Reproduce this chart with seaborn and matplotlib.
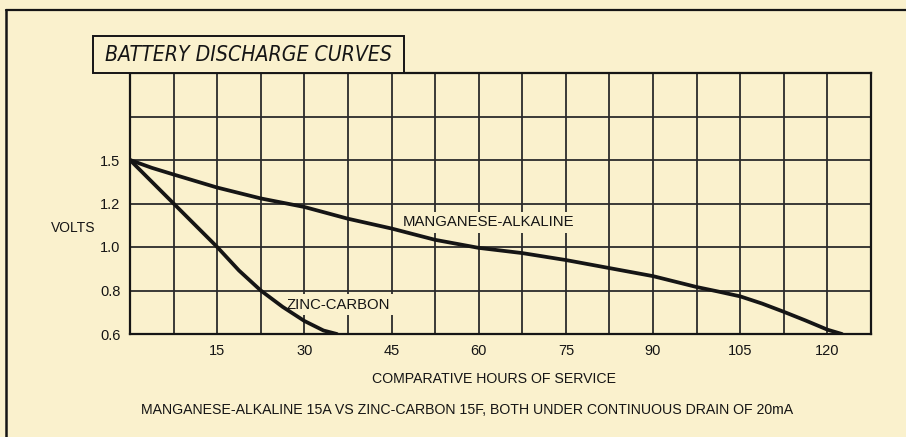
import numpy as np
import pandas as pd
import matplotlib
matplotlib.use("Agg")
import matplotlib.pyplot as plt
from matplotlib import font_manager
from matplotlib.font_manager import FontProperties
from matplotlib.patches import Rectangle
from matplotlib.lines import Line2D
import seaborn as sns

# ---- data -------------------------------------------------------------
mn_hours = [0, 3.75, 7.5, 15, 22.5, 30, 37.5, 45, 52.5, 60, 67.5, 75,
            82.5, 90, 97.5, 101.25, 105, 108.75, 112.5, 116.25, 120, 122.5]
mn_volts = [1.50, 1.446, 1.40, 1.31, 1.235, 1.184, 1.13, 1.085, 1.033, 0.996,
            0.972, 0.94, 0.903, 0.866, 0.816, 0.795, 0.773, 0.74, 0.702,
            0.662, 0.62, 0.60]

zn_hours = [0, 3.75, 7.5, 11.25, 15, 18.75, 22.5, 26.25, 30, 33.3, 35.6]
zn_volts = [1.50, 1.35, 1.20, 1.10, 1.00, 0.892, 0.80, 0.725, 0.66, 0.616, 0.60]

series_names = ["MANGANESE-ALKALINE", "ZINC-CARBON"]

x_ticks = [0, 7.5, 15, 22.5, 30, 37.5, 45, 52.5, 60, 67.5, 75, 82.5, 90,
           97.5, 105, 112.5, 120, 127.5]
x_labels = ["", "", "15", "", "30", "", "45", "", "60", "", "75", "", "90",
            "", "105", "", "120", ""]
y_ticks = [0.6, 0.8, 1.0, 1.2, 1.5, 1.8, 2.1]
y_labels = ["0.6", "0.8", "1.0", "1.2", "1.5", "", ""]

title = "BATTERY DISCHARGE CURVES"
x_title = "COMPARATIVE HOURS OF SERVICE"
y_title = "VOLTS"
footnote = ("MANGANESE-ALKALINE 15A VS ZINC-CARBON 15F, BOTH UNDER "
            "CONTINUOUS DRAIN OF 20mA")

# ---- style ------------------------------------------------------------
paper = "#faf1cd"
ink = "#151515"
grid_ink = "#2b2b2b"

sns.set_style("white")
installed = {f.name for f in font_manager.fontManager.ttflist}
regular = "Liberation Sans" if "Liberation Sans" in installed else "DejaVu Sans"
plt.rcParams["font.family"] = [regular, "DejaVu Sans"]
plt.rcParams["text.color"] = ink


def title_font():
    """A narrow slanted face for the title, if one is installed."""
    files = [f for f in font_manager.fontManager.ttflist
             if ("Narrow" in f.fname or "Condensed" in f.fname)
             and f.weight in (400, "normal", "regular")]
    slanted = [f for f in files if f.style in ("italic", "oblique")]
    for group in (slanted, files):
        for pref in ("Liberation", "DejaVu", "Roboto", "Open", "Noto"):
            for f in group:
                if pref in f.fname:
                    return FontProperties(fname=f.fname,
                                          style="normal" if f in slanted else "italic")
    return FontProperties(family=regular, style="italic")


df = pd.DataFrame({
    "hours": mn_hours + zn_hours,
    "volts": mn_volts + zn_volts,
    "cell": [series_names[0]] * len(mn_hours) + [series_names[1]] * len(zn_hours),
})

fig = plt.figure(figsize=(9.06, 4.37), dpi=100, facecolor=paper)
ax = fig.add_axes([130 / 906, 1 - 334 / 437, 741 / 906, 261 / 437])
ax.set_facecolor(paper)


# Voltage axis: equal spacing for 0.6-0.8-1.0-1.2, then 0.3 V per row above
def v_to_row(v):
    v = np.asarray(v, dtype=float)
    return np.where(v <= 1.2, (v - 0.6) / 0.2, 3 + (v - 1.2) / 0.3)


def row_to_v(r):
    r = np.asarray(r, dtype=float)
    return np.where(r <= 3, 0.6 + 0.2 * r, 1.2 + 0.3 * (r - 3))


ax.set_yscale("function", functions=(v_to_row, row_to_v))

sns.lineplot(data=df, x="hours", y="volts", hue="cell", sort=False,
             palette=[ink, ink], linewidth=2.7, legend=False, ax=ax,
             zorder=5, solid_capstyle="round", solid_joinstyle="round")

ax.set_xlim(0, 127.5)
ax.set_ylim(0.6, 2.1)
ax.set_xticks(x_ticks)
ax.set_xticklabels(x_labels)
ax.set_yticks(y_ticks)
ax.set_yticklabels(y_labels)
ax.minorticks_off()
ax.tick_params(length=0, labelsize=10.5, colors=ink, pad=7)
ax.set_xlabel("")
ax.set_ylabel("")
ax.grid(True, color=grid_ink, linewidth=1.3)
ax.set_axisbelow(True)
for s in ax.spines.values():
    s.set_color(ink)
    s.set_linewidth(1.6)

# series labels on cream patches that hide the grid behind them
box = dict(facecolor=paper, edgecolor="none", pad=2.5)
ax.text(47, 1.114, series_names[0], ha="left", va="center", fontsize=10.7,
        bbox=box, zorder=3)
ax.text(27, 0.735, series_names[1], ha="left", va="center", fontsize=10.7,
        bbox=box, zorder=3)

# axis titles and footnote
fig.text(73 / 906, 1 - 228 / 437, y_title, ha="center", va="center", fontsize=10)
fig.text(494 / 906, 1 - 379 / 437, x_title, ha="center", va="center", fontsize=10.2)
fig.text(467 / 906, 1 - 410 / 437, footnote, ha="center", va="center", fontsize=10.2)

# boxed chart title above the grid
fig.patches.append(Rectangle((93 / 906, 1 - 73 / 437), 311 / 906, 37 / 437,
                             transform=fig.transFigure, facecolor=paper,
                             edgecolor=ink, linewidth=1.4, zorder=2))
tprops = title_font()
tprops.set_size(16.5)
ttl = fig.text(248.5 / 906, 1 - 55 / 437, title, ha="center", va="center",
               fontproperties=tprops, zorder=3)
# fit the title to a 287 px run inside its box
renderer = fig.canvas.get_renderer()
w = ttl.get_window_extent(renderer).width
tprops.set_size(min(18.0, 16.5 * 287 / w))
ttl.set_fontproperties(tprops)

# page frame: rule along the top and down the left side
fig.add_artist(Line2D([6 / 906, 1.0], [1 - 10 / 437, 1 - 10 / 437],
                      transform=fig.transFigure, color=ink, linewidth=1.6))
fig.add_artist(Line2D([6 / 906, 6 / 906], [0.0, 1 - 10 / 437],
                      transform=fig.transFigure, color=ink, linewidth=1.8))

fig.savefig("out.png", dpi=100, facecolor=paper)
